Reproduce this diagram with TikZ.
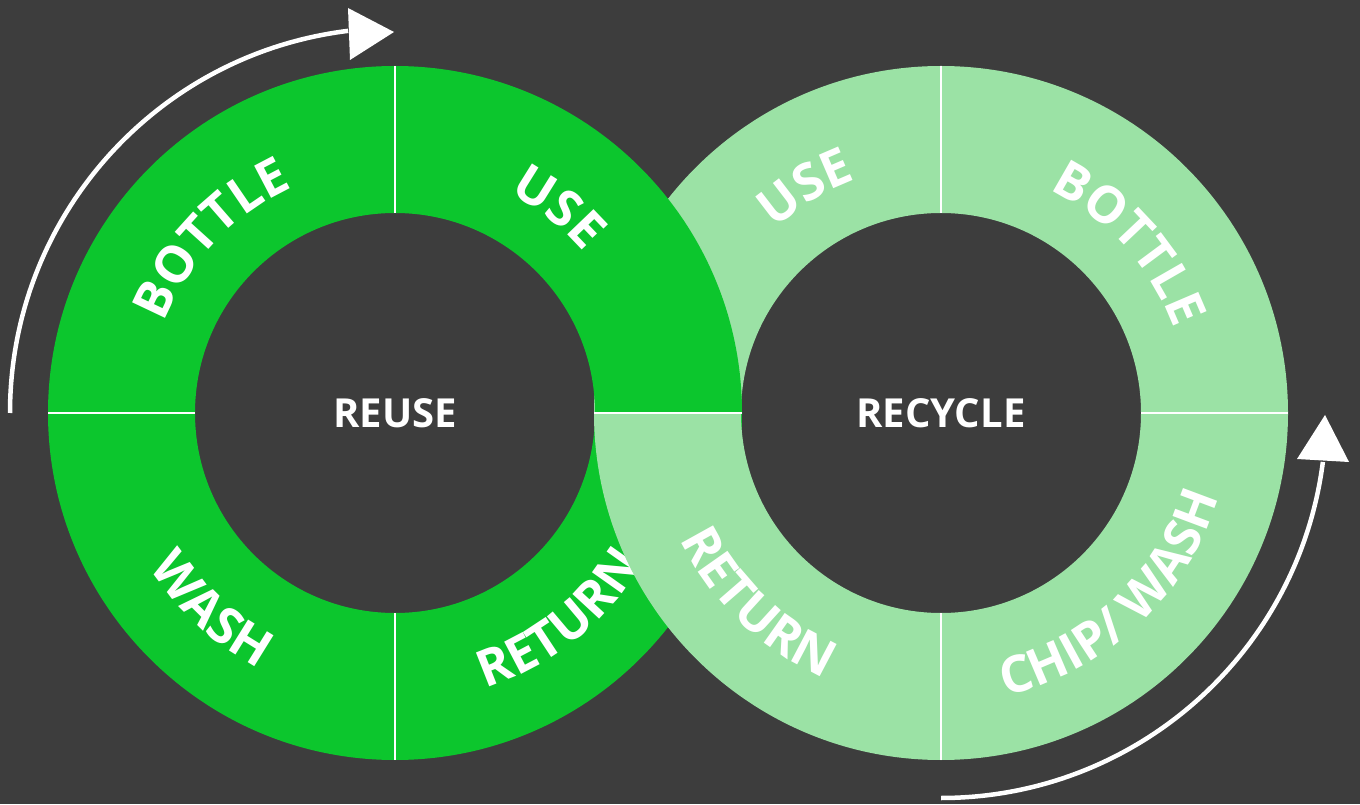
\documentclass[tikz,border=0pt]{standalone}
\usepackage{fontspec}
\setmainfont{Open Sans}
\usetikzlibrary{calc,decorations.text}
\definecolor{bg}{HTML}{3D3D3D}
\definecolor{dgreen}{HTML}{0CC62D}
\definecolor{lgreen}{HTML}{9BE2A5}
\newcommand\ringfont{\fontsize{51}{51}\selectfont\bfseries}
\newcommand\ringquad[4]{%
  \fill[#1] ($(#2)+(#3:347)$) arc[start angle=#3, end angle=#4, radius=347]
    -- ($(#2)+(#4:200)$) arc[start angle=#4, end angle=#3, radius=200] -- cycle;}
\tikzset{
  ringtext/.style={decorate, decoration={text along path, text align=center,
      text color=white, text={|\ringfont|#1}}},
  divider/.style={draw=white, line width=2pt},
  arrowline/.style={draw=white, line width=4.5pt},
  centertext/.style={text=white, font=\fontsize{40}{40}\selectfont\bfseries, inner sep=0pt},
}
\begin{document}
\begin{tikzpicture}[x=1pt,y=1pt]
\useasboundingbox (0,0) rectangle (1360,804);
\fill[bg] (0,0) rectangle (1360,804);
\coordinate (L) at (395,391);
\coordinate (R) at (941,391);
% right ring (except bottom-left)
\ringquad{lgreen}{R}{0}{90}
\ringquad{lgreen}{R}{90}{180}
\ringquad{lgreen}{R}{270}{360}
% left ring
\ringquad{dgreen}{L}{0}{90}
\ringquad{dgreen}{L}{90}{180}
\ringquad{dgreen}{L}{180}{270}
\ringquad{dgreen}{L}{270}{360}
% left ring texts
\path[ringtext={BOTTLE}] ($(L)+(186.5:248)$) arc[start angle=186.5, end angle=86.5, radius=248];
\path[ringtext={USE}] ($(L)+(101.5:248)$) arc[start angle=101.5, end angle=1.5, radius=248];
\path[ringtext={WASH}] ($(L)+(177:290)$) arc[start angle=177, end angle=277, radius=290];
\path[ringtext={RETURN}] ($(L)+(258.5:290)$) arc[start angle=258.5, end angle=358.5, radius=290];
% right ring bottom-left on top
\ringquad{lgreen}{R}{180}{270}
% right ring texts
\path[ringtext={USE}] ($(R)+(171:248)$) arc[start angle=171, end angle=71, radius=248];
\path[ringtext={BOTTLE}] ($(R)+(92:248)$) arc[start angle=92, end angle=-8, radius=248];
\path[ringtext={RETURN}] ($(R)+(176:290)$) arc[start angle=176, end angle=276, radius=290];
\path[ringtext={CHIP/ WASH}] ($(R)+(253:290)$) arc[start angle=253, end angle=373, radius=290];
% dividers
\foreach \c in {L,R}{
  \foreach \a in {0,90,180,270}{
    \draw[divider] ($(\c)+(\a:200)$) -- ($(\c)+(\a:347)$);
  }
}
% center labels
\node[centertext] (reuse) at (L) {REUSE};
\node[centertext] (recycle) at (R) {RECYCLE};
% arrows
\coordinate (la) at ($(L)+(180:385)$);
\draw[arrowline] (la) arc[start angle=180, end angle=97, radius=385];
\coordinate (lt1) at (348,796);
\coordinate (lt2) at (394,772);
\coordinate (lt3) at (350,744);
\fill[white] (lt1) -- (lt2) -- (lt3) -- cycle;
\coordinate (ra) at ($(R)+(270:385)$);
\draw[arrowline] (ra) arc[start angle=270, end angle=352.7, radius=385];
\coordinate (rt1) at (1325,389);
\coordinate (rt2) at (1297,345);
\coordinate (rt3) at (1349,342);
\fill[white] (rt1) -- (rt2) -- (rt3) -- cycle;
\end{tikzpicture}
\end{document}
